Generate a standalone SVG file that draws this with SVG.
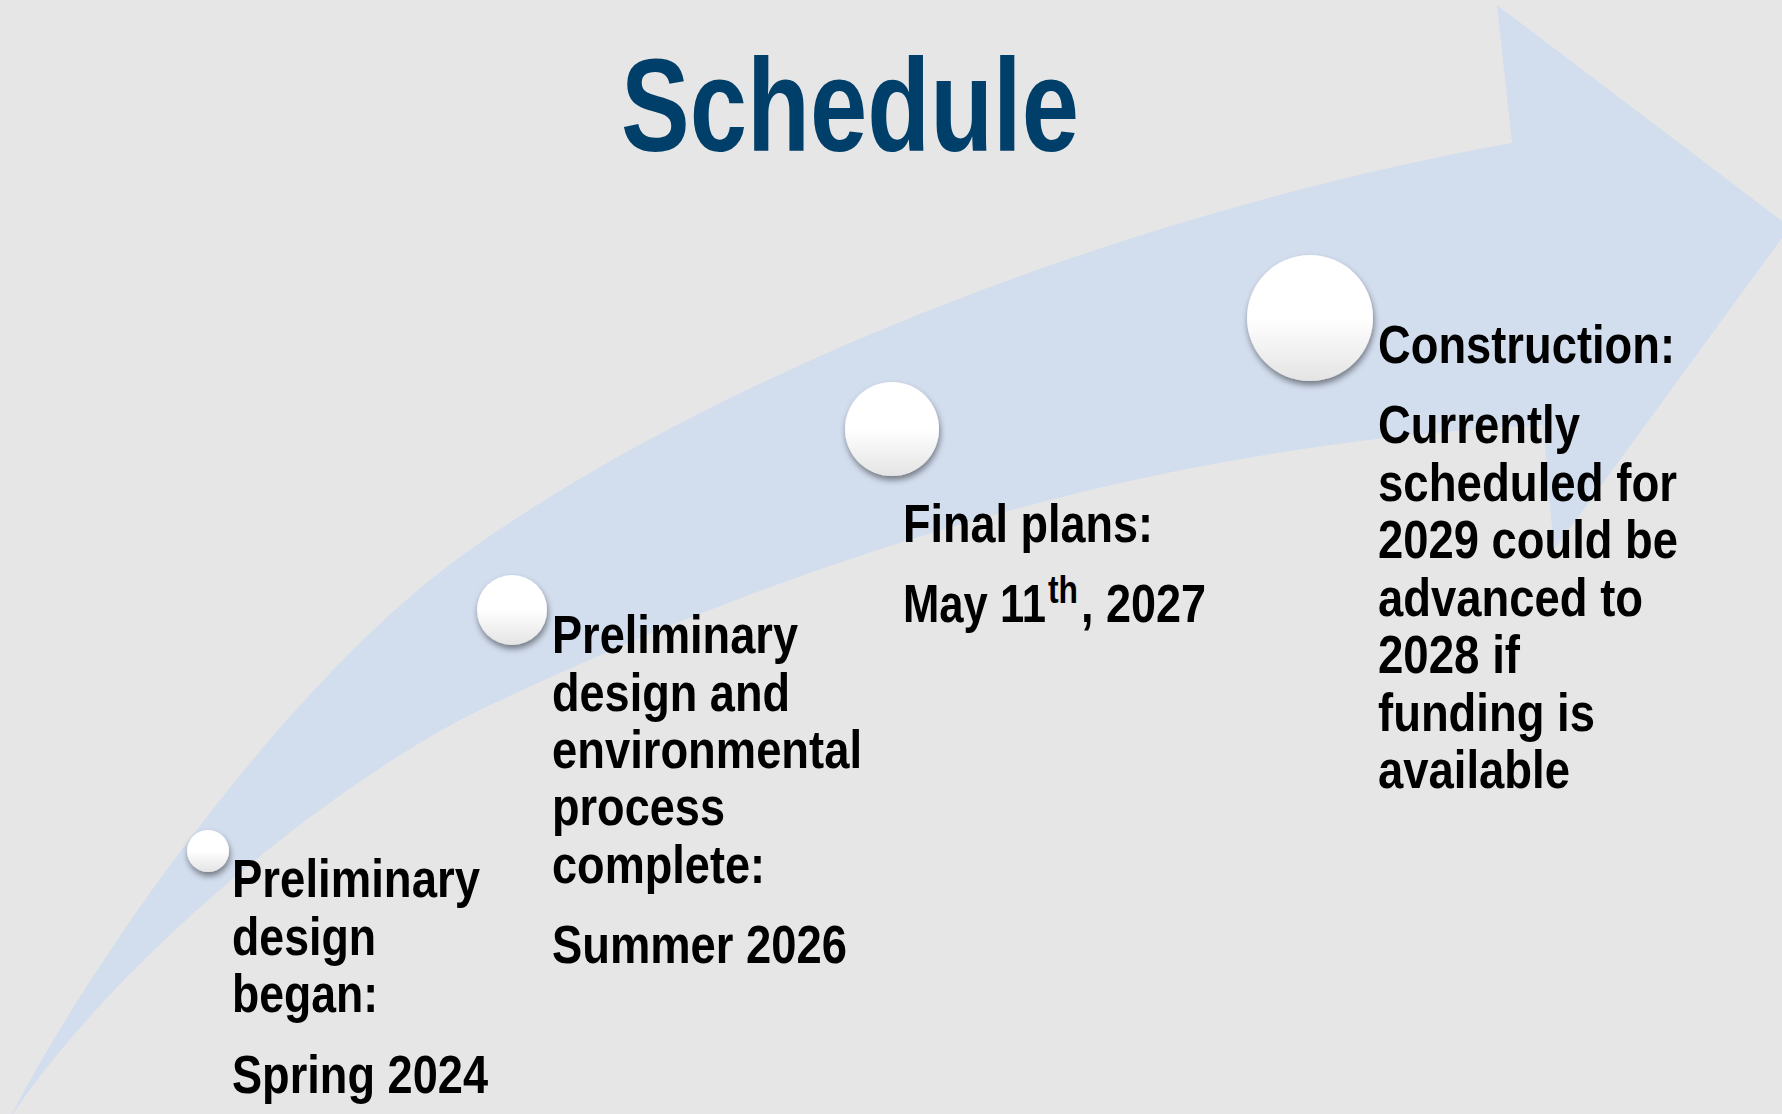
<svg xmlns="http://www.w3.org/2000/svg" width="1782" height="1114" viewBox="0 0 1782 1114">
<style>
.bg{fill:#e6e6e6}
.band{fill:#d2ddee}
.title{font-family:"Liberation Sans",Arial,sans-serif;font-weight:bold;font-size:131px;fill:#003f6a}
.t{font-family:"Liberation Sans",Arial,sans-serif;font-weight:bold;font-size:54px;fill:#000}
.sup{font-family:"Liberation Sans",Arial,sans-serif;font-weight:bold;font-size:38px;fill:#000}
.dot{fill:url(#dotGrad);filter:url(#shadow)}
</style>
<defs>
<linearGradient id="dotGrad" x1="0" y1="0" x2="0" y2="1">
<stop offset="0" stop-color="#ffffff"/>
<stop offset="0.5" stop-color="#ffffff"/>
<stop offset="1" stop-color="#e4e4e4"/>
</linearGradient>
<filter id="shadow" x="-30%" y="-30%" width="160%" height="170%">
<feDropShadow dx="1" dy="4" stdDeviation="3" flood-color="#000" flood-opacity="0.45"/>
</filter>
</defs>
<rect class="bg" x="0" y="0" width="1782" height="1114"/>
<g id="connectors">
<path class="band" d="M 10,1118 C 121,952 345,775 480,710 C 795,560 1143,445 1543,425 L 1554,550 L 1790,227 L 1497,5 L 1512,143 C 1112,215 698,383 456,560 C 295,678 102,940 10,1118 Z"/>
</g>
<g id="title">
<text class="title" x="621" y="151" textLength="458" lengthAdjust="spacingAndGlyphs">Schedule</text>
</g>
<g id="milestone-1">
<circle class="dot" cx="208" cy="851" r="21"/>
<text class="t" x="232" y="897" textLength="248" lengthAdjust="spacingAndGlyphs">Preliminary</text>
<text class="t" x="232" y="955" textLength="144" lengthAdjust="spacingAndGlyphs">design</text>
<text class="t" x="232" y="1012" textLength="146" lengthAdjust="spacingAndGlyphs">began:</text>
<text class="t" x="232" y="1093" textLength="256" lengthAdjust="spacingAndGlyphs">Spring 2024</text>
</g>
<g id="milestone-2">
<circle class="dot" cx="512" cy="610" r="35"/>
<text class="t" x="552" y="653" textLength="246" lengthAdjust="spacingAndGlyphs">Preliminary</text>
<text class="t" x="552" y="711" textLength="238" lengthAdjust="spacingAndGlyphs">design and</text>
<text class="t" x="552" y="768" textLength="310" lengthAdjust="spacingAndGlyphs">environmental</text>
<text class="t" x="552" y="825" textLength="173" lengthAdjust="spacingAndGlyphs">process</text>
<text class="t" x="552" y="883" textLength="213" lengthAdjust="spacingAndGlyphs">complete:</text>
<text class="t" x="552" y="963" textLength="295" lengthAdjust="spacingAndGlyphs">Summer 2026</text>
</g>
<g id="milestone-3">
<circle class="dot" cx="892" cy="429" r="47"/>
<text class="t" x="903" y="542" textLength="250" lengthAdjust="spacingAndGlyphs">Final plans:</text>
<text class="t" x="903" y="622" textLength="143" lengthAdjust="spacingAndGlyphs">May 11</text>
<text class="sup" x="1048" y="603" textLength="30" lengthAdjust="spacingAndGlyphs">th</text>
<text class="t" x="1081" y="622" textLength="125" lengthAdjust="spacingAndGlyphs">, 2027</text>
</g>
<g id="milestone-4">
<circle class="dot" cx="1310" cy="318" r="63"/>
<text class="t" x="1378" y="363" textLength="297" lengthAdjust="spacingAndGlyphs">Construction:</text>
<text class="t" x="1378" y="443" textLength="202" lengthAdjust="spacingAndGlyphs">Currently</text>
<text class="t" x="1378" y="500.5" textLength="299" lengthAdjust="spacingAndGlyphs">scheduled for</text>
<text class="t" x="1378" y="558" textLength="300" lengthAdjust="spacingAndGlyphs">2029 could be</text>
<text class="t" x="1378" y="615.5" textLength="265" lengthAdjust="spacingAndGlyphs">advanced to</text>
<text class="t" x="1378" y="673" textLength="142" lengthAdjust="spacingAndGlyphs">2028 if</text>
<text class="t" x="1378" y="730.5" textLength="217" lengthAdjust="spacingAndGlyphs">funding is</text>
<text class="t" x="1378" y="788" textLength="192" lengthAdjust="spacingAndGlyphs">available</text>
</g>
</svg>
